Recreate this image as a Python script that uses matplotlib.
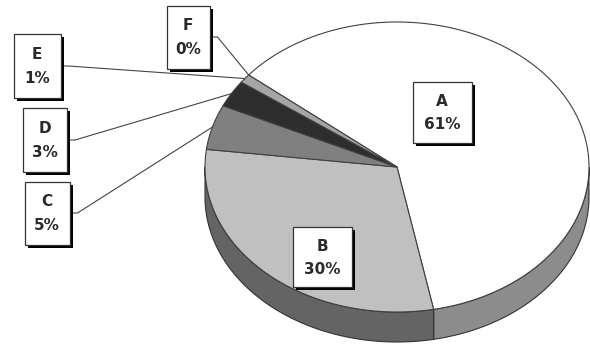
import numpy as np
import matplotlib.pyplot as plt
from matplotlib.patches import Polygon, Rectangle

# slice data
labels = ['A', 'B', 'C', 'D', 'E', 'F']
shares = [61, 30, 5, 3, 1, 0]

top_colors = ['#ffffff', '#c0c0c0', '#808080', '#2e2e2e', '#a6a6a6', '#d8d8d8']
side_colors = ['#8c8c8c', '#646464', '#4a4a4a', '#1a1a1a', '#6a6a6a', '#909090']

# pie geometry in pixel space
cx, cy = 397, 167
rx, ry = 192, 145
depth = 30
start_angle = 140.6   # slices run clockwise from here

# label boxes: (center x, center y, width, height), outside ones get leader lines
boxes = {
    'A': (442, 112, 59, 61),
    'B': (322, 257, 59, 60),
    'C': (47, 213, 45, 63),
    'D': (45, 140, 44, 64),
    'E': (37, 66, 47, 64),
    'F': (188, 37, 43, 63),
}
outside = ['C', 'D', 'E', 'F']


def rim(t, dz=0.0):
    t = np.radians(t)
    return np.column_stack([cx + rx * np.cos(t), cy - ry * np.sin(t) + dz])


fig = plt.figure(figsize=(5.9, 3.46), dpi=100)
ax = fig.add_axes([0, 0, 1, 1])
ax.set_xlim(0, 590)
ax.set_ylim(346, 0)
ax.axis('off')

# angular extent of every slice
spans = []
hi = start_angle
for v in shares:
    lo = hi - 360.0 * v / sum(shares)
    spans.append((lo, hi))
    hi = lo

# front side walls (visible where sin(angle) < 0)
for (lo, hi), col in zip(spans, side_colors):
    for k in (-360, 0, 360):
        a, b = max(lo, -180 + k), min(hi, k)
        if b - a <= 0:
            continue
        ts = np.linspace(a, b, 80)
        pts = np.vstack([rim(ts), rim(ts[::-1], depth)])
        ax.add_patch(Polygon(pts, closed=True, facecolor=col,
                             edgecolor='#333333', linewidth=0.8, zorder=1))

# top faces
for (lo, hi), col in zip(spans, top_colors):
    if hi - lo <= 0:
        continue
    ts = np.linspace(hi, lo, max(int(hi - lo) * 2, 4))
    pts = np.vstack([[cx, cy], rim(ts)])
    ax.add_patch(Polygon(pts, closed=True, facecolor=col,
                         edgecolor='#404040', linewidth=0.8, zorder=2))

# leader lines from the outer boxes to the slice rims
for name in outside:
    i = labels.index(name)
    lo, hi = spans[i]
    mx, my = rim((lo + hi) / 2)[0]
    bx, by, bw, bh = boxes[name]
    x0 = bx + bw / 2
    ax.plot([x0, x0 + 8, mx], [by, by, my], color='#444444',
            linewidth=0.8, zorder=3)

# label boxes with drop shadows
for name, pct in zip(labels, shares):
    bx, by, bw, bh = boxes[name]
    x0, y0 = bx - bw / 2, by - bh / 2
    ax.add_patch(Rectangle((x0 + 3, y0 + 3), bw, bh, facecolor='black',
                           edgecolor='none', zorder=4))
    ax.add_patch(Rectangle((x0, y0), bw, bh, facecolor='white',
                           edgecolor='#333333', linewidth=0.9, zorder=5))
    ax.text(bx, y0 + 0.32 * bh, name, ha='center', va='center',
            fontsize=11, fontweight='bold', color='#2a2a2a', zorder=6)
    ax.text(bx, y0 + 0.7 * bh, f'{pct}%', ha='center', va='center',
            fontsize=11, fontweight='bold', color='#2a2a2a', zorder=6)

fig.savefig('out.png', dpi=100)
